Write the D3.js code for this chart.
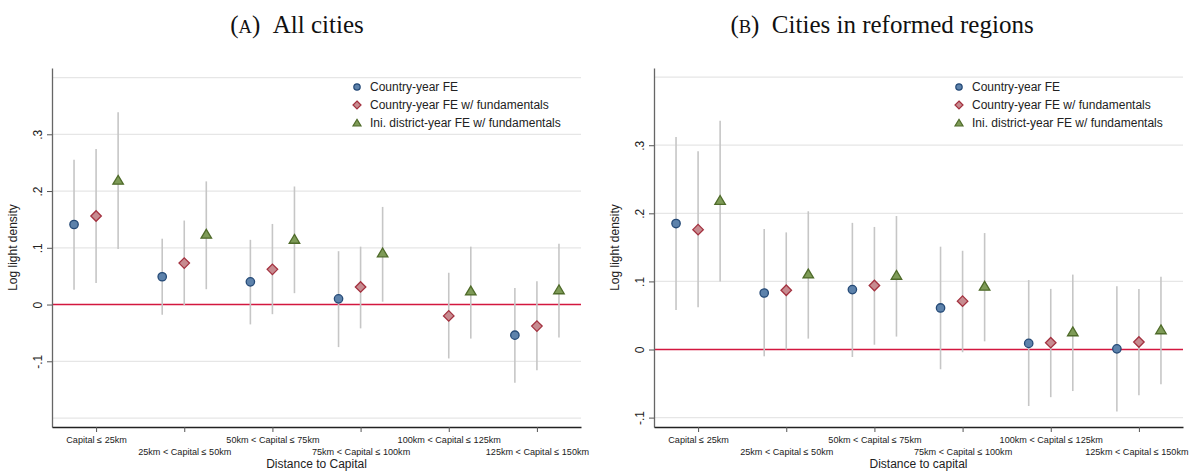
<!DOCTYPE html>
<html>
  <head>
    <meta charset="utf-8">
    <script src="https://cdn.jsdelivr.net/npm/d3@7"></script>
    <style>
      body { margin: 0; background: #fff; }
      text { font-family: "Liberation Sans", Arial, sans-serif; fill: #222; }
      .title { font-family: "Liberation Serif", "DejaVu Serif", serif; fill: #111; }
    </style>
  </head>
  <body>
    <div id="chart"></div>

    <script>
      // ========= Data ========= //
      const categories = [
        'Capital ≤ 25km', '25km < Capital ≤ 50km', '50km < Capital ≤ 75km',
        '75km < Capital ≤ 100km', '100km < Capital ≤ 125km', '125km < Capital ≤ 150km'
      ];
      const seriesNames = [
        'Country-year FE',
        'Country-year FE w/ fundamentals',
        'Ini. district-year FE w/ fundamentals'
      ];

      // panel A: all cities (point estimate, lower and upper CI)
      const allCyEst = [0.141, 0.049, 0.040, 0.010, null, -0.054];
      const allCyLo  = [0.026, -0.018, -0.035, -0.075, null, -0.138];
      const allCyHi  = [0.255, 0.116, 0.114, 0.094, null, 0.029];
      const allFundEst = [0.156, 0.073, 0.062, 0.031, -0.020, -0.038];
      const allFundLo  = [0.038, -0.001, -0.017, -0.042, -0.095, -0.116];
      const allFundHi  = [0.274, 0.148, 0.142, 0.102, 0.056, 0.041];
      const allDistEst = [0.219, 0.124, 0.115, 0.091, 0.024, 0.026];
      const allDistLo  = [0.098, 0.027, 0.020, 0.005, -0.060, -0.058];
      const allDistHi  = [0.339, 0.217, 0.208, 0.172, 0.102, 0.107];

      // panel B: cities in reformed regions
      const refCyEst = [0.185, 0.083, 0.088, 0.061, 0.009, 0.001];
      const refCyLo  = [0.058, -0.010, -0.011, -0.029, -0.083, -0.091];
      const refCyHi  = [0.312, 0.177, 0.186, 0.151, 0.102, 0.093];
      const refFundEst = [0.176, 0.087, 0.094, 0.071, 0.010, 0.011];
      const refFundLo  = [0.062, 0.000, 0.007, -0.004, -0.070, -0.067];
      const refFundHi  = [0.291, 0.172, 0.180, 0.145, 0.089, 0.089];
      const refDistEst = [0.219, 0.111, 0.109, 0.093, 0.026, 0.029];
      const refDistLo  = [0.100, 0.016, 0.019, 0.012, -0.061, -0.051];
      const refDistHi  = [0.336, 0.203, 0.196, 0.171, 0.110, 0.107];

      const yTicks = [-0.1, 0, 0.1, 0.2, 0.3];
      const yTickLabels = ['-.1', '0', '.1', '.2', '.3'];

      // ========= Setup ========= //
      const width = 1190;
      const height = 471;
      const offsets = [-0.25, 0, 0.25];
      const styles = [
        { shape: 'circle', fill: '#5d82ab', stroke: '#254a77' },
        { shape: 'diamond', fill: '#c78b90', stroke: '#a3313f' },
        { shape: 'triangle', fill: '#7e9b57', stroke: '#4f6b2a' }
      ];

      const svg = d3.select('#chart').append('svg')
        .attr('width', width)
        .attr('height', height);

      function markerPath(shape, s) {
        if (shape === 'circle') {
          return d3.symbol().type(d3.symbolCircle).size(Math.PI * s * s)();
        }
        if (shape === 'diamond') {
          const r = s * 1.25;
          return `M0,${-r}L${r},0L0,${r}L${-r},0Z`;
        }
        const w = s * 1.25;
        const h = s * 2.1;
        return `M0,${-h * 0.55}L${w},${h * 0.45}L${-w},${h * 0.45}Z`;
      }

      function drawPanel(p) {
        const g = svg.append('g');

        const x = d3.scaleLinear().domain([0.5, 6.5]).range([p.left, p.right]);
        const y = d3.scaleLinear().domain(p.yDomain).range([427, 68]);

        // title: "(A) ..." with small-caps letter
        const title = g.append('text')
          .attr('class', 'title')
          .attr('x', p.titleX)
          .attr('y', 33)
          .attr('text-anchor', 'middle')
          .style('font-size', '25px');
        title.append('tspan').text('(');
        title.append('tspan').style('font-size', '18.5px').text(p.letter);
        title.append('tspan').text(')\u00a0\u00a0' + p.title);

        // gridlines
        g.append('g').selectAll('line')
          .data(p.grid)
          .join('line')
          .attr('x1', p.left).attr('x2', p.right)
          .attr('y1', d => y(d)).attr('y2', d => y(d))
          .attr('stroke', '#e6e6e6')
          .attr('stroke-width', 1.2);

        // zero line
        g.append('line')
          .attr('x1', p.left).attr('x2', p.right)
          .attr('y1', y(0)).attr('y2', y(0))
          .attr('stroke', '#d3173f')
          .attr('stroke-width', 1.6);

        // y axis
        const yAxis = g.append('g')
          .attr('transform', `translate(${p.left},0)`)
          .call(d3.axisLeft(y).tickValues(yTicks).tickSize(5).tickSizeOuter(0)
            .tickFormat((d, i) => yTickLabels[i]));
        yAxis.select('.domain').attr('stroke', '#666').attr('stroke-width', 1.3);
        yAxis.selectAll('.tick line').attr('stroke', '#555');
        yAxis.selectAll('.tick text')
          .attr('x', 0).attr('y', 0).attr('dy', '0.35em')
          .attr('text-anchor', 'middle')
          .attr('transform', 'translate(-14,0) rotate(-90)')
          .style('font-size', '12px')
          .style('fill', '#222');

        g.append('text')
          .attr('transform', `translate(${p.left - 35},${(68 + 427) / 2}) rotate(-90)`)
          .attr('text-anchor', 'middle')
          .style('font-size', '12px')
          .text('Log light density');

        // x axis
        const xAxis = g.append('g')
          .attr('transform', 'translate(0,427)')
          .call(d3.axisBottom(x).tickValues(d3.range(1, 7)).tickSize(5).tickSizeOuter(0)
            .tickFormat((d, i) => categories[i]));
        xAxis.select('.domain').attr('stroke', '#222').attr('stroke-width', 1.3);
        xAxis.selectAll('.tick line').attr('stroke', '#555');
        xAxis.selectAll('.tick text')
          .attr('y', (d, i) => (i % 2 === 0 ? 13 : 25))
          .attr('dy', '0.35em')
          .style('font-size', '9.1px')
          .style('fill', '#222')
          .each(function (d) {
            // keep the last label inside the window
            const half = this.getComputedTextLength() / 2;
            const over = x(d) + half - (width - 2);
            if (over > 0) d3.select(this).attr('x', -over);
          });

        g.append('text')
          .attr('x', (p.left + p.right) / 2)
          .attr('y', 468)
          .attr('text-anchor', 'middle')
          .style('font-size', '12px')
          .text(p.xTitle);

        // confidence intervals then markers
        p.series.forEach((s, k) => {
          const rows = s.est.map((v, i) => ({ i: i + 1, v: v, lo: s.lo[i], hi: s.hi[i] }))
            .filter(d => d.v !== null);

          g.append('g').selectAll('line')
            .data(rows)
            .join('line')
            .attr('x1', d => x(d.i + offsets[k])).attr('x2', d => x(d.i + offsets[k]))
            .attr('y1', d => y(d.lo)).attr('y2', d => y(d.hi))
            .attr('stroke', '#c6c6c6')
            .attr('stroke-width', 1.6);
        });

        p.series.forEach((s, k) => {
          const rows = s.est.map((v, i) => ({ i: i + 1, v: v }))
            .filter(d => d.v !== null);

          g.append('g').selectAll('path')
            .data(rows)
            .join('path')
            .attr('transform', d => `translate(${x(d.i + offsets[k])},${y(d.v)})`)
            .attr('d', markerPath(styles[k].shape, 4.2))
            .attr('fill', styles[k].fill)
            .attr('stroke', styles[k].stroke)
            .attr('stroke-width', 1.3);
        });

        // legend
        const legend = g.append('g')
          .attr('transform', `translate(${p.legendX},87)`);
        seriesNames.forEach((name, k) => {
          const row = legend.append('g').attr('transform', `translate(0,${k * 18})`);
          row.append('path')
            .attr('d', markerPath(styles[k].shape, 3.2))
            .attr('fill', styles[k].fill)
            .attr('stroke', styles[k].stroke)
            .attr('stroke-width', 1.2);
          row.append('text')
            .attr('x', 13)
            .attr('dy', '0.35em')
            .style('font-size', '12px')
            .text(name);
        });
      }

      drawPanel({
        letter: 'A', title: 'All cities', titleX: 297,
        left: 52, right: 581,
        yDomain: [-0.2158, 0.4168],
        grid: [-0.2, -0.1, 0.1, 0.2, 0.3, 0.4],
        xTitle: 'Distance to Capital',
        legendX: 357,
        series: [
          { est: allCyEst, lo: allCyLo, hi: allCyHi },
          { est: allFundEst, lo: allFundLo, hi: allFundHi },
          { est: allDistEst, lo: allDistLo, hi: allDistHi }
        ]
      });

      drawPanel({
        letter: 'B', title: 'Cities in reformed regions', titleX: 882,
        left: 654, right: 1183,
        yDomain: [-0.1138, 0.4134],
        grid: [-0.1, 0.1, 0.2, 0.3, 0.4],
        xTitle: 'Distance to capital',
        legendX: 959,
        series: [
          { est: refCyEst, lo: refCyLo, hi: refCyHi },
          { est: refFundEst, lo: refFundLo, hi: refFundHi },
          { est: refDistEst, lo: refDistLo, hi: refDistHi }
        ]
      });
    </script>
  </body>
</html>
